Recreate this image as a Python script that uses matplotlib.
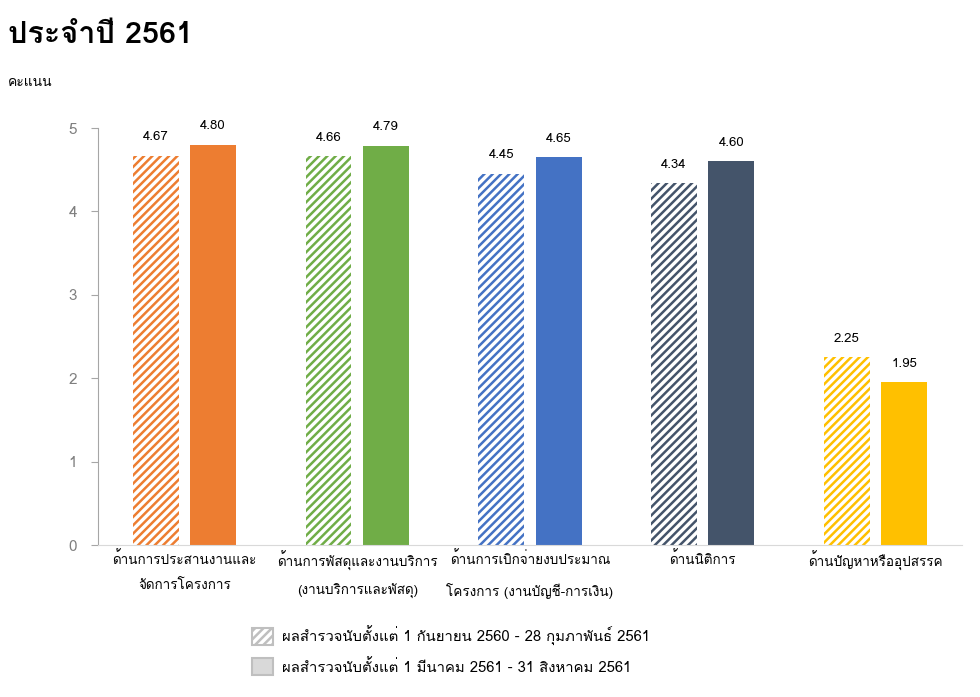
import matplotlib
matplotlib.use('Agg')
import matplotlib.pyplot as plt
import numpy as np
from matplotlib import font_manager
from matplotlib.ft2font import FT2Font
from matplotlib.patches import Patch

# pick an installed font that has Thai glyphs, if any
thai_font = None
for f in font_manager.fontManager.ttflist:
    try:
        if FT2Font(f.fname).get_char_index(ord('ก')):
            thai_font = f.name
            break
    except Exception:
        pass
families = ([thai_font] if thai_font else []) + ['DejaVu Sans']
plt.rcParams['font.family'] = families
plt.rcParams['hatch.linewidth'] = 1.8

categories = ['ด้านการประสานงานและ\nจัดการโครงการ',
              'ด้านการพัสดุและงานบริการ\n(งานบริการและพัสดุ)',
              'ด้านการเบิกจ่ายงบประมาณ\nโครงการ (งานบัญชี-การเงิน)',
              'ด้านนิติการ',
              'ด้านปัญหาหรืออุปสรรค']
first_half = [4.67, 4.66, 4.45, 4.34, 2.25]
second_half = [4.80, 4.79, 4.65, 4.60, 1.95]
colors = ['#ED7D31', '#70AD47', '#4472C4', '#44546A', '#FFC000']
legend_labels = ['ผลสำรวจนับตั้งแต่ 1 กันยายน 2560 - 28 กุมภาพันธ์ 2561',
                 'ผลสำรวจนับตั้งแต่ 1 มีนาคม 2561 - 31 สิงหาคม 2561']

fig = plt.figure(figsize=(9.8, 6.97), dpi=100, facecolor='white')
ax = fig.add_axes([0.1, 0.218, 0.8816, 0.5983])

x = np.arange(len(categories))
w = 0.266
off = 0.166
bars1 = ax.bar(x - off, first_half, w, facecolor='white', edgecolor=colors,
               hatch='////', linewidth=0)
bars2 = ax.bar(x + off, second_half, w, color=colors, linewidth=0)

for b, v in zip(bars1, first_half):
    ax.annotate(f'{v:.2f}', (b.get_x() + b.get_width() / 2, v),
                xytext=(0, 9), textcoords='offset points', ha='center',
                va='bottom', fontsize=9.5, color='black')
for b, v in zip(bars2, second_half):
    ax.annotate(f'{v:.2f}', (b.get_x() + b.get_width() / 2, v),
                xytext=(0, 9), textcoords='offset points', ha='center',
                va='bottom', fontsize=9.5, color='black')

ax.set_xlim(-0.5, 4.5)
ax.set_ylim(0, 5)
ax.set_xticks(x)
ax.set_xticklabels(categories, fontsize=9.7, linespacing=2.25)
ax.tick_params(axis='x', length=0, pad=4)
ax.set_yticks(range(6))
ax.tick_params(axis='y', length=5, color='#A6A6A6', labelcolor='#7F7F7F',
               labelsize=11, pad=10)
for s in ['top', 'right']:
    ax.spines[s].set_visible(False)
ax.spines['left'].set_color('#A6A6A6')
ax.spines['bottom'].set_color('#D9D9D9')

fig.text(0.008, 0.95, 'ประจำปี 2561', fontsize=22, fontweight='bold',
         va='center', ha='left')
fig.text(0.008, 0.881, 'คะแนน', fontsize=10, va='center', ha='left')

handles = [Patch(facecolor='white', edgecolor='#BFBFBF', hatch='////', linewidth=1.5),
           Patch(facecolor='#D9D9D9', edgecolor='#BFBFBF', linewidth=1.5)]
fig.legend(handles, legend_labels, loc='upper left',
           bbox_to_anchor=(0.25, 0.113), frameon=False, fontsize=10.7,
           borderpad=0, handlelength=1.4, handleheight=1.4,
           handletextpad=0.6, labelspacing=0.85)
fig.savefig('out.png', dpi=100)
